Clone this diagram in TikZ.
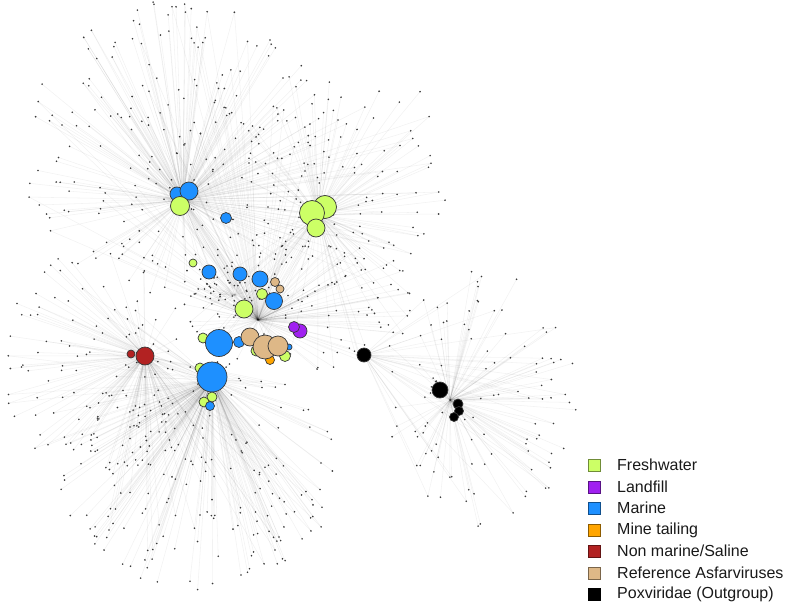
\documentclass[tikz,border=0pt]{standalone}
\usepackage{fontspec}
\setmainfont{Liberation Sans}
\definecolor{fwc}{HTML}{CCFF66}
\definecolor{lfc}{HTML}{A020F0}
\definecolor{mac}{HTML}{1E90FF}
\definecolor{mtc}{HTML}{FFA500}
\definecolor{nmc}{HTML}{B22222}
\definecolor{rac}{HTML}{DEB887}
\definecolor{pxc}{HTML}{000000}
\definecolor{dotgray}{HTML}{3A3A3A}
\tikzset{
  edge/.style={draw=black, draw opacity=0.05, line width=0.55pt},
  dotc/.style={fill=dotgray},
  bub/.style={circle, draw=black!78, line width=0.7pt, fill=#1, inner sep=0pt},
  lsq/.style={rectangle, minimum size=12pt, inner sep=0pt, fill=#1, draw=#1!55!black, line width=1pt},
  ltx/.style={anchor=west, inner sep=0pt, font=\fontsize{16}{18}\selectfont, text=black!90}
}
\newif\ifedgepass
% #1 hub, #2 cx, #3 cy, #4 rx, #5 ry, #6 count, #7 second hub
\newcommand\mycloud[7]{%
  \foreach \i in {1,...,#6}{%
    \pgfmathsetmacro\ang{360*rnd}%
    \pgfmathsetmacro\rr{sqrt(rnd)}%
    \pgfmathsetmacro\px{#2+#4*\rr*cos(\ang)}%
    \pgfmathsetmacro\py{max(2,#3+#5*\rr*sin(\ang))}%
    \pgfmathsetmacro\pp{rnd}%
    \coordinate (d) at (\px,\py);%
    \ifedgepass
      \draw[edge] (d) -- (#1);%
      \ifdim\pp pt<0.3pt \draw[edge] (d) -- (#7);\fi
    \else
      \fill[dotc] (d) circle (0.9pt);%
    \fi
  }}
\newcommand\allclouds{%
\mycloud{h1}{175}{150}{155}{150}{230}{h6}
\mycloud{h2}{345}{175}{105}{120}{110}{h1}
\mycloud{h3}{95}{360}{95}{115}{110}{h4}
\mycloud{h4}{200}{475}{140}{115}{210}{h3}
\mycloud{h5}{480}{400}{100}{130}{110}{hb}
\mycloud{h6}{300}{300}{120}{70}{130}{h2}
\mycloud{hc}{228}{290}{30}{18}{30}{h1}}
\begin{document}
\begin{tikzpicture}[x=1pt,y=-1pt]
\useasboundingbox (0,0) rectangle (787,605);
% hubs
\coordinate (h1) at (183,200);
\coordinate (h2) at (318,215);
\coordinate (h3) at (145,356);
\coordinate (h4) at (212,380);
\coordinate (h5) at (450,400);
\coordinate (h6) at (258,320);
\coordinate (hb) at (364,355);
\coordinate (hc) at (235,295);
% edges then dots (same random sequence)
\edgepasstrue
\pgfmathsetseed{4242}
\allclouds
\edgepassfalse
\pgfmathsetseed{4242}
\allclouds
% bubbles
\node[bub=mac, minimum size=14pt] (m1) at (177,194) {};
\node[bub=mac, minimum size=18pt] (m2) at (189,191) {};
\node[bub=fwc, minimum size=19pt] (f1) at (180,206) {};
\node[bub=mac, minimum size=11pt] (m3) at (226,218) {};
\node[bub=fwc, minimum size=23pt] (f2) at (325,207) {};
\node[bub=fwc, minimum size=25pt] (f3) at (312,213) {};
\node[bub=fwc, minimum size=18pt] (f4) at (316,228) {};
\node[bub=fwc, minimum size=8pt] (f5) at (193,263) {};
\node[bub=mac, minimum size=14pt] (m4) at (209,272) {};
\node[bub=mac, minimum size=14pt] (m5) at (240,274) {};
\node[bub=mac, minimum size=16pt] (m6) at (260,279) {};
\node[bub=rac, minimum size=9pt] (t1) at (275,282) {};
\node[bub=rac, minimum size=8pt] (t2) at (280,289) {};
\node[bub=fwc, minimum size=11pt] (f6) at (262,294) {};
\node[bub=mac, minimum size=17pt] (m7) at (274,301) {};
\node[bub=fwc, minimum size=18pt] (f7) at (244,309) {};
\node[bub=lfc, minimum size=14pt] (l2) at (300,331) {};
\node[bub=lfc, minimum size=11pt] (l1) at (294,327) {};
\node[bub=fwc, minimum size=10pt] (f8) at (203,338) {};
\node[bub=mac, minimum size=27pt] (m8) at (219,343) {};
\node[bub=mac, minimum size=11pt] (m9) at (239,342) {};
\node[bub=fwc, minimum size=10pt] (f9) at (256,351) {};
\node[bub=mtc, minimum size=9pt] (o1) at (270,360) {};
\node[bub=mac, minimum size=6pt] (m10) at (289,347) {};
\node[bub=fwc, minimum size=11pt] (f10) at (285,356) {};
\node[bub=rac, minimum size=18pt] (t3) at (250,337) {};
\node[bub=rac, minimum size=24pt] (t4) at (265,347) {};
\node[bub=rac, minimum size=20pt] (t5) at (278,346) {};
\node[bub=fwc, minimum size=10pt] (f11) at (200,368) {};
\node[bub=mac, minimum size=30pt] (m11) at (212,377) {};
\node[bub=fwc, minimum size=10pt] (f12) at (212,397) {};
\node[bub=fwc, minimum size=10pt] (f13) at (204,402) {};
\node[bub=mac, minimum size=9pt] (m12) at (210,406) {};
\node[bub=nmc, minimum size=8pt] (r1) at (131,354) {};
\node[bub=nmc, minimum size=18pt] (r2) at (145,356) {};
\node[bub=pxc, minimum size=14pt] (b1) at (364,355) {};
\node[bub=pxc, minimum size=16pt] (b2) at (440,390) {};
\node[bub=pxc, minimum size=10pt] (b3) at (458,404) {};
\node[bub=pxc, minimum size=9pt] (b4) at (459,411) {};
\node[bub=pxc, minimum size=9pt] (b5) at (454,417) {};
% legend
\node[lsq=fwc] (k1) at (594,465) {};
\node[ltx] (k1t) at (617,465) {Freshwater};
\node[lsq=lfc] (k2) at (594,487) {};
\node[ltx] (k2t) at (617,487) {Landfill};
\node[lsq=mac] (k3) at (594,508) {};
\node[ltx] (k3t) at (617,508) {Marine};
\node[lsq=mtc] (k4) at (594,530) {};
\node[ltx] (k4t) at (617,530) {Mine tailing};
\node[lsq=nmc] (k5) at (594,551) {};
\node[ltx] (k5t) at (617,551) {Non marine/Saline};
\node[lsq=rac] (k6) at (594,573) {};
\node[ltx] (k6t) at (617,573) {Reference Asfarviruses};
\node[lsq=pxc] (k7) at (594,594) {};
\node[ltx] (k7t) at (617,594) {Poxviridae (Outgroup)};
\end{tikzpicture}
\end{document}
